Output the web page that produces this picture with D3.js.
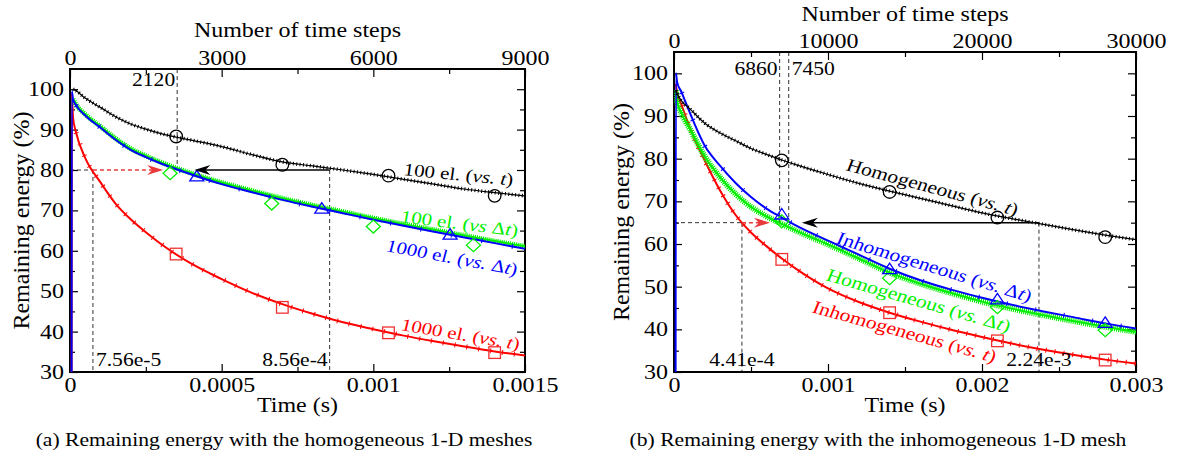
<!DOCTYPE html>
<html><head><meta charset="utf-8">
<script src="https://cdn.jsdelivr.net/npm/d3@7"></script>
<style>
body{margin:0;background:#fff;}
svg{display:block;font-family:"Liberation Serif","Times New Roman",serif;}
</style></head><body>
<svg id="chart" width="1177" height="456"></svg>
<script>
// ================= DATA =================
// (a) homogeneous meshes — time (s); null = not drawn
const leftTime = [0.000005, 0.000006, 0.00001, 0.00002, 0.00005, 0.0001, 0.00015, 0.0002, 0.00025, 0.0003, 0.0004, 0.0005, 0.0006, 0.0007, 0.0008, 0.0009, 0.001, 0.0011, 0.0012, 0.0013, 0.0014, 0.0015];
const left100elVsT   = [null, null, 100, 99.6, 97.8, 95.5, 93.2, 91.4, 90.1, 89.0, 87.4, 85.8, 83.8, 82.0, 81.0, 80.0, 78.9, 77.7, 76.5, 75.3, 74.4, 73.6];
const left100elVsDt  = [null, null, 97.5, 96.2, 93.8, 90.8, 87.8, 85.3, 83.5, 81.9, 79.2, 76.9, 74.9, 73.0, 71.3, 69.7, 68.1, 66.6, 65.2, 63.8, 62.4, 61.1];
const left1000elVsDt = [0, 99.5, 97.5, 96.0, 93.5, 90.5, 87.5, 85.0, 83.2, 81.6, 78.9, 76.5, 74.5, 72.6, 70.9, 69.3, 67.7, 66.2, 64.7, 63.3, 61.9, 60.5];
const left1000elVsT  = [0, 99, 93, 89.3, 83, 77, 71.7, 67.8, 64.6, 61.7, 56.8, 53.0, 49.6, 46.8, 44.4, 42.3, 40.6, 39.0, 37.6, 36.3, 35.1, 34.1];
// markers (a)
const leftCircleT = [0.00035, 0.0007, 0.00105, 0.0014],   leftCircleV = [88.3, 81.3, 78.6, 73.6];
const leftDiamondT = [0.00033, 0.000665, 0.001, 0.00133], leftDiamondV = [79.2, 71.7, 66.0, 61.4];
const leftTriangleT = [0.000418, 0.00083, 0.001253],      leftTriangleV = [78.3, 70.3, 63.9];
const leftSquareT = [0.00035, 0.0007, 0.00105, 0.0014],   leftSquareV = [59.2, 46.0, 39.7, 34.8];
// reference marks (a)
const leftLevel = 80;
const leftStepMarks = [2120];
const leftTimeMarks = [7.56e-5, 8.56e-4];
const leftTimeMarkLabels = ["7.56e-5", "8.56e-4"];
const leftArrowTips = [0.000307, 0.00041];

// (b) inhomogeneous mesh — time (s)
const rightTime = [0.00001, 0.000012, 0.00002, 0.00005, 0.0001, 0.0002, 0.0003, 0.0004, 0.0005, 0.0006, 0.0007, 0.0008, 0.001, 0.0012, 0.0014, 0.0016, 0.0018, 0.002, 0.0022, 0.0024, 0.0026, 0.0028, 0.003];
const rightHomVsT    = [null, 96, 95.3, 93.5, 91.8, 88.3, 86.0, 84.2, 82.4, 81.0, 79.7, 78.5, 76.3, 74.2, 72.4, 70.7, 69.0, 67.3, 65.9, 64.6, 63.3, 62.1, 61.0];
const rightInhomVsDt = [0, 100, 98, 95.5, 91, 83, 78.3, 74.3, 71.0, 68.3, 66.2, 64.2, 60.8, 57.5, 54.2, 51.5, 49.3, 47.4, 45.7, 44.2, 42.8, 41.4, 40.2];
const rightHomVsDt   = [null, 96, 93.5, 90.5, 87.2, 80.5, 75.6, 71.7, 68.7, 66.5, 64.7, 63.0, 59.9, 56.6, 53.3, 50.7, 48.5, 46.5, 44.8, 43.3, 41.9, 40.6, 39.4];
const rightInhomVsT  = [null, 97.5, 95.5, 92.5, 87.5, 79.5, 72.5, 66.8, 62.7, 59.5, 56.6, 54.0, 49.6, 46.4, 43.9, 41.8, 39.9, 38.2, 36.6, 35.2, 34.0, 32.9, 32.0];
// markers (b)
const rightCircleT = [0.0007, 0.0014, 0.0021, 0.0028],   rightCircleV = [79.6, 72.2, 66.2, 61.6];
const rightTriangleT = [0.0007, 0.0014, 0.0021, 0.0028], rightTriangleV = [66.8, 54.0, 46.9, 41.4];
const rightDiamondT = [0.0007, 0.0014, 0.0021, 0.0028],  rightDiamondV = [65.3, 52.0, 45.2, 39.8];
const rightSquareT = [0.0007, 0.0014, 0.0021, 0.0028],   rightSquareV = [56.4, 43.9, 37.3, 32.8];
// reference marks (b)
const rightLevel = 65;
const rightStepMarks = [6860, 7450];
const rightTimeMarks = [4.41e-4, 2.37e-3];
const rightTimeMarkLabels = ["4.41e-4", "2.24e-3"];
const rightArrowTips = [0.000623, 0.00083];

// axes ticks
const yTicks = [30, 40, 50, 60, 70, 80, 90, 100];
const yMinor = [35, 45, 55, 65, 75, 85, 95];
const leftTimeTicks = [0, 0.0005, 0.001, 0.0015];
const leftTimeMinor = [0.00025, 0.00075, 0.00125];
const leftStepTicks = [0, 3000, 6000, 9000];
const leftStepMinor = [1500, 4500, 7500];
const rightTimeTicks = [0, 0.001, 0.002, 0.003];
const rightTimeMinor = [0.0005, 0.0015, 0.0025];
const rightStepTicks = [0, 10000, 20000, 30000];
const rightStepMinor = [5000, 15000, 25000];

// ================= DRAWING =================
const svg = d3.select('#chart');
const SX = 1.2;
const C = {black:'#000', red:'#ff0000', green:'#00ee00', blue:'#0000ff', dash:'#333'};

function hstretch(sel){
  sel.each(function(){
    const t = d3.select(this);
    const x = +t.attr('x') || 0, y = +t.attr('y') || 0;
    t.attr('transform', `translate(${x},${y}) scale(${SX},1) translate(${-x},${-y})`);
  });
}
function addText(g, x, y, str, size, anchor, color){
  const t = g.append('text').attr('x', x).attr('y', y).attr('font-size', size)
    .attr('text-anchor', anchor || 'middle').attr('fill', color || '#000').text(str);
  hstretch(t);
  return t;
}
function richLabel(g, x, y, angle, segs, size, color){
  const inner = Math.atan(SX * Math.tan(angle * Math.PI / 180)) * 180 / Math.PI;
  const t = g.append('text').attr('font-size', size).attr('fill', color)
    .attr('transform', `translate(${x},${y}) scale(${SX},1) rotate(${inner})`);
  segs.forEach(s => t.append('tspan').text(s[0]).attr('font-style', s[1] ? 'italic' : 'normal'));
}

function panel(cfg){
  const x = d3.scaleLinear().domain([0, cfg.tMax]).range([cfg.L, cfg.R]);
  const xs = d3.scaleLinear().domain([0, cfg.sMax]).range([cfg.L, cfg.R]);
  const y = d3.scaleLinear().domain([30, 105]).range([cfg.B, cfg.T]);
  const g = svg.append('g');
  svg.append('clipPath').attr('id', 'clip' + cfg.id).append('rect')
    .attr('x', cfg.L).attr('y', cfg.T).attr('width', cfg.R - cfg.L).attr('height', cfg.B - cfg.T);

  const fmt = d => d === 0 ? '0' : String(d);
  function styleAxis(sel, labels){
    sel.select('.domain').remove();
    sel.selectAll('.tick line').attr('stroke', '#000').attr('stroke-width', 1.2);
    sel.attr('font-family', null).attr('font-size', null);
    sel.selectAll('.tick text').attr('font-size', 20).attr('fill', '#000');
    if (labels) hstretch(sel.selectAll('.tick text'));
  }
  // bottom
  g.append('g').attr('transform', `translate(0,${cfg.B})`)
    .call(d3.axisBottom(x).tickValues(cfg.tTicks).tickSize(-8).tickPadding(6).tickFormat(fmt)).call(s => styleAxis(s, true));
  g.append('g').attr('transform', `translate(0,${cfg.B})`)
    .call(d3.axisBottom(x).tickValues(cfg.tMinor).tickSize(-5).tickFormat('')).call(s => styleAxis(s));
  // top
  g.append('g').attr('transform', `translate(0,${cfg.T})`)
    .call(d3.axisTop(xs).tickValues(cfg.sTicks).tickSize(-8).tickPadding(4).tickFormat(fmt)).call(s => styleAxis(s, true));
  g.append('g').attr('transform', `translate(0,${cfg.T})`)
    .call(d3.axisTop(xs).tickValues(cfg.sMinor).tickSize(-5).tickFormat('')).call(s => styleAxis(s));
  // left
  g.append('g').attr('transform', `translate(${cfg.L},0)`)
    .call(d3.axisLeft(y).tickValues(yTicks).tickSize(-8).tickPadding(6)).call(s => styleAxis(s, true));
  g.append('g').attr('transform', `translate(${cfg.L},0)`)
    .call(d3.axisLeft(y).tickValues(yMinor).tickSize(-5).tickFormat('')).call(s => styleAxis(s));
  // right
  g.append('g').attr('transform', `translate(${cfg.R},0)`)
    .call(d3.axisRight(y).tickValues(yTicks).tickSize(-8).tickFormat('')).call(s => styleAxis(s));
  g.append('g').attr('transform', `translate(${cfg.R},0)`)
    .call(d3.axisRight(y).tickValues(yMinor).tickSize(-5).tickFormat('')).call(s => styleAxis(s));

  // dashed guides
  const yl = y(cfg.level);
  const dg = g.append('g').attr('stroke', C.dash).attr('stroke-width', 1).attr('stroke-dasharray', '4,3').attr('fill', 'none');
  dg.append('line').attr('x1', cfg.L).attr('x2', x(cfg.timeMarks[0])).attr('y1', yl).attr('y2', yl);
  cfg.timeMarks.forEach(t => dg.append('line').attr('x1', x(t)).attr('x2', x(t)).attr('y1', yl).attr('y2', cfg.B));
  cfg.stepMarks.forEach(s => dg.append('line').attr('x1', xs(s)).attr('x2', xs(s)).attr('y1', cfg.T).attr('y2', yl));

  // frame
  g.append('rect').attr('x', cfg.L).attr('y', cfg.T).attr('width', cfg.R - cfg.L).attr('height', cfg.B - cfg.T)
    .attr('fill', 'none').attr('stroke', '#000').attr('stroke-width', 2);

  // series
  const cg = g.append('g').attr('clip-path', `url(#clip${cfg.id})`);
  const line = (times) => d3.line().defined(d => d !== null).x((d, i) => x(times[i])).y(d => y(d)).curve(d3.curveMonotoneX);
  cfg.series.forEach(s => {
    const p = line(cfg.time)(s.v);
    if (s.kind === 'wavy') {
      cg.append('path').attr('d', p).attr('fill', 'none').attr('stroke', s.c).attr('stroke-width', 1.2);
      cg.append('path').attr('d', p).attr('fill', 'none').attr('stroke', s.c).attr('stroke-width', 3.6).attr('stroke-dasharray', '1,2.4');
    } else if (s.kind === 'band') {
      cg.append('path').attr('d', p).attr('fill', 'none').attr('stroke', s.c).attr('stroke-width', 2);
      cg.append('path').attr('d', p).attr('fill', 'none').attr('stroke', s.c).attr('stroke-width', s.w).attr('stroke-dasharray', '1.1,1');
    } else {
      cg.append('path').attr('d', p).attr('fill', 'none').attr('stroke', s.c).attr('stroke-width', 2);
      cg.append('path').attr('d', line(cfg.time)(s.v.map((v, i) => i < 3 ? null : v)))
        .attr('fill', 'none').attr('stroke', s.c).attr('stroke-width', 5).attr('stroke-dasharray', s.tick);
    }
  });

  // markers
  const mg = g.append('g').attr('fill', 'none').attr('stroke-width', 1.3);
  cfg.markers.forEach(m => {
    m.t.forEach((t, i) => {
      const cx = x(t), cy = y(m.v[i]);
      let el;
      if (m.shape === 'circle') el = mg.append('circle').attr('cx', cx).attr('cy', cy).attr('r', 6.3);
      else if (m.shape === 'square') el = mg.append('rect').attr('x', cx - 5.8).attr('y', cy - 5.8).attr('width', 11.6).attr('height', 11.6);
      else if (m.shape === 'triangle') el = mg.append('path').attr('d', `M${cx},${cy - 6.5}L${cx + 7},${cy + 4}L${cx - 7},${cy + 4}Z`);
      else el = mg.append('path').attr('d', `M${cx},${cy - 6.5}L${cx + 7},${cy}L${cx},${cy + 6.5}L${cx - 7},${cy}Z`);
      el.attr('stroke', m.c);
    });
  });

  // arrows
  function arrow(xFrom, xTip, color, dashed){
    const dir = Math.sign(xTip - xFrom);
    const l = g.append('line').attr('x1', xFrom).attr('x2', xTip - dir * 10).attr('y1', yl).attr('y2', yl)
      .attr('stroke', color).attr('stroke-width', 1.5);
    if (dashed) l.attr('stroke-dasharray', '4,3');
    g.append('path').attr('d', `M${xTip},${yl}L${xTip - dir * 16},${yl - 5}L${xTip - dir * 11},${yl}L${xTip - dir * 16},${yl + 5}Z`).attr('fill', color);
  }
  arrow(x(cfg.timeMarks[0]), x(cfg.arrowTips[0]), '#e83a3a', true);
  arrow(x(cfg.timeMarks[1]), x(cfg.arrowTips[1]), '#000', false);

  // annotations
  cfg.stepMarks.forEach((s, i) => {
    const a = cfg.stepAnchor[i];
    addText(g, xs(s) + (a === 'end' ? -2 : 3), cfg.T + cfg.stepDy, String(s), 18, a);
  });
  cfg.timeMarks.forEach((t, i) => {
    const a = cfg.timeAnchor[i];
    addText(g, x(t) + (a === 'end' ? -2 : a === 'start' ? 3 : 0), cfg.B - 6, cfg.timeLabels[i], 18, a);
  });

  // titles
  addText(g, (cfg.L + cfg.R) / 2, cfg.topTitleY, 'Number of time steps', 20);
  addText(g, (cfg.L + cfg.R) / 2, 412, 'Time (s)', 20);
  g.append('text').attr('transform', `translate(${cfg.yTitleX},${(cfg.T + cfg.B) / 2}) rotate(-90)`)
    .attr('text-anchor', 'middle').attr('font-size', 24).text('Remaining energy (%)');
  addText(g, cfg.capX, 446, cfg.caption, 18);

  cfg.labels.forEach(l => richLabel(g, l.x, l.y, l.a, l.segs, l.size, l.c));
}

panel({
  id: 'a', L: 70, R: 525, T: 69, B: 372, tMax: 0.0015, sMax: 9000,
  tTicks: leftTimeTicks, tMinor: leftTimeMinor, sTicks: leftStepTicks, sMinor: leftStepMinor,
  level: leftLevel, timeMarks: leftTimeMarks, timeLabels: leftTimeMarkLabels, timeAnchor: ['start', 'end'],
  stepMarks: leftStepMarks, stepAnchor: ['end'], stepDy: 17, arrowTips: leftArrowTips,
  time: leftTime,
  series: [
    {v: left1000elVsT, c: C.red, tick: '1,11'},
    {v: left100elVsDt, c: C.green, kind: 'band', w: 5},
    {v: left1000elVsDt, c: C.blue, tick: '1,30'},
    {v: left100elVsT, c: C.black, kind: 'wavy'}
  ],
  markers: [
    {shape: 'circle', t: leftCircleT, v: leftCircleV, c: C.black},
    {shape: 'diamond', t: leftDiamondT, v: leftDiamondV, c: C.green},
    {shape: 'triangle', t: leftTriangleT, v: leftTriangleV, c: C.blue},
    {shape: 'square', t: leftSquareT, v: leftSquareV, c: '#f03030'}
  ],
  topTitleY: 37, yTitleX: 29, capX: 284,
  caption: '(a) Remaining energy with the homogeneous 1-D meshes',
  labels: [
    {x: 403, y: 175, a: 5.5, size: 17.5, c: C.black, segs: [['100 el. ('], ['vs.', 1], [' '], ['t', 1], [')']]},
    {x: 400, y: 222, a: 7, size: 17.5, c: C.green, segs: [['100 el. ('], ['vs', 1], [' Δ'], ['t', 1], [')']]},
    {x: 385, y: 251, a: 10.5, size: 17.5, c: C.blue, segs: [['1000 el. ('], ['vs.', 1], [' Δ'], ['t', 1], [')']]},
    {x: 400, y: 330, a: 9.5, size: 17.5, c: C.red, segs: [['1000 el. ('], ['vs.', 1], [' '], ['t', 1], [')']]}
  ]
});

panel({
  id: 'b', L: 674, R: 1136, T: 52, B: 372, tMax: 0.003, sMax: 30000,
  tTicks: rightTimeTicks, tMinor: rightTimeMinor, sTicks: rightStepTicks, sMinor: rightStepMinor,
  level: rightLevel, timeMarks: rightTimeMarks, timeLabels: rightTimeMarkLabels, timeAnchor: ['middle', 'middle'],
  stepMarks: rightStepMarks, stepAnchor: ['end', 'start'], stepDy: 23, arrowTips: rightArrowTips,
  time: rightTime,
  series: [
    {v: rightInhomVsT, c: C.red, tick: '1,8'},
    {v: rightHomVsDt, c: C.green, kind: 'band', w: 6},
    {v: rightInhomVsDt, c: C.blue, tick: '1,28'},
    {v: rightHomVsT, c: C.black, kind: 'wavy'}
  ],
  markers: [
    {shape: 'circle', t: rightCircleT, v: rightCircleV, c: C.black},
    {shape: 'diamond', t: rightDiamondT, v: rightDiamondV, c: C.green},
    {shape: 'triangle', t: rightTriangleT, v: rightTriangleV, c: C.blue},
    {shape: 'square', t: rightSquareT, v: rightSquareV, c: '#f03030'}
  ],
  topTitleY: 21, yTitleX: 629, capX: 878,
  caption: '(b) Remaining energy with the inhomogeneous 1-D mesh',
  labels: [
    {x: 845, y: 170, a: 15, size: 18, c: C.black, segs: [['Homogeneous ('], ['vs.', 1], [' '], ['t', 1], [')']]},
    {x: 835, y: 243, a: 17, size: 18, c: C.blue, segs: [['Inhomogeneous ('], ['vs.', 1], [' Δ'], ['t', 1], [')']]},
    {x: 825, y: 280, a: 16, size: 18, c: C.green, segs: [['Homogeneous ('], ['vs.', 1], [' Δ'], ['t', 1], [')']]},
    {x: 811, y: 312, a: 15.5, size: 18, c: C.red, segs: [['Inhomogeneous ('], ['vs.', 1], [' '], ['t', 1], [')']]}
  ]
});
</script>
</body></html>
